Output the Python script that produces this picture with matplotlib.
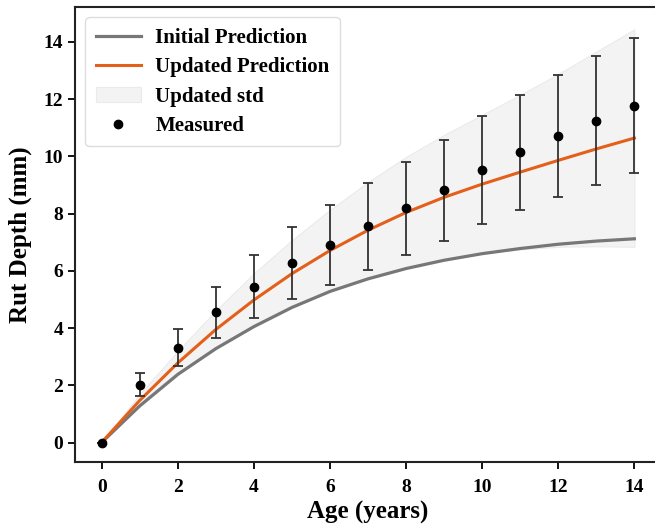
import numpy as np
import matplotlib
matplotlib.use('Agg')
import matplotlib.pyplot as plt

plt.rcParams['font.family'] = ['Liberation Serif', 'DejaVu Serif']
plt.rcParams['font.weight'] = 'bold'

# Age grid (years)
age = [0, 1, 2, 3, 4, 5, 6, 7, 8, 9, 10, 11, 12, 13, 14]

# Model curves
initial_pred = [0, 1.28, 2.38, 3.28, 4.05, 4.72, 5.28, 5.72, 6.08, 6.37, 6.60, 6.78, 6.93, 7.04, 7.12]
updated_pred = [0, 1.47, 2.78, 3.95, 4.98, 5.90, 6.71, 7.42, 8.04, 8.57, 9.03, 9.45, 9.86, 10.26, 10.64]
updated_std = [0, 0.22, 0.42, 0.66, 0.93, 1.17, 1.42, 1.68, 1.94, 2.18, 2.42, 2.70, 3.02, 3.40, 3.80]

# Field measurements and their error bars
measured = [0, 2.02, 3.32, 4.55, 5.45, 6.27, 6.90, 7.55, 8.18, 8.81, 9.53, 10.14, 10.70, 11.25, 11.77]
measured_err = [0, 0.40, 0.65, 0.90, 1.10, 1.26, 1.39, 1.51, 1.63, 1.75, 1.89, 2.02, 2.13, 2.25, 2.35]

upper = np.array(updated_pred) + np.array(updated_std)
lower = np.array(updated_pred) - np.array(updated_std)

fig = plt.figure(figsize=(6.55, 5.32), dpi=100)
ax = fig.add_axes([75 / 655, 70 / 532, 586 / 655, 455 / 532])

ax.fill_between(age, lower, upper, color='#f2f2f2', alpha=0.85, edgecolor='#e8e8e8',
                linewidth=0.8, label='Updated std', zorder=1)
ax.plot(age, initial_pred, color='#777777', lw=2.3, label='Initial Prediction', zorder=2)
ax.plot(age, updated_pred, color='#e35f1a', lw=2.2, label='Updated Prediction', zorder=3)
ax.errorbar(age, measured, yerr=measured_err, fmt='none', ecolor='#333333',
            elinewidth=1.3, capsize=3.5, capthick=1.3, zorder=4)
ax.plot(age, measured, 'o', color='black', ms=6, label='Measured', zorder=5)

ax.set_xlim(-0.7, 14.7)
ax.set_ylim(-0.68, 15.22)
ax.set_xticks(range(0, 15, 2))
ax.set_yticks(range(0, 15, 2))
ax.tick_params(labelsize=14, width=1.3, length=5)
ax.tick_params(axis='x', pad=7)
for lab in ax.get_xticklabels() + ax.get_yticklabels():
    lab.set_fontweight('bold')
for sp in ax.spines.values():
    sp.set_linewidth(1.5)
    sp.set_color('#222222')

ax.set_xlabel('Age (years)', fontsize=18, fontweight='bold', labelpad=4)
ax.set_ylabel('Rut Depth (mm)', fontsize=18, fontweight='bold', labelpad=8)

handles, labels = ax.get_legend_handles_labels()
order = ['Initial Prediction', 'Updated Prediction', 'Updated std', 'Measured']
hl = dict(zip(labels, handles))
ax.legend([hl[k] for k in order], order, loc='upper left',
          prop={'weight': 'bold', 'size': 15}, handlelength=2.15, handletextpad=0.7,
          labelspacing=0.45, borderpad=0.5, framealpha=1, edgecolor='#dddddd')

fig.savefig('out.png', dpi=100)
